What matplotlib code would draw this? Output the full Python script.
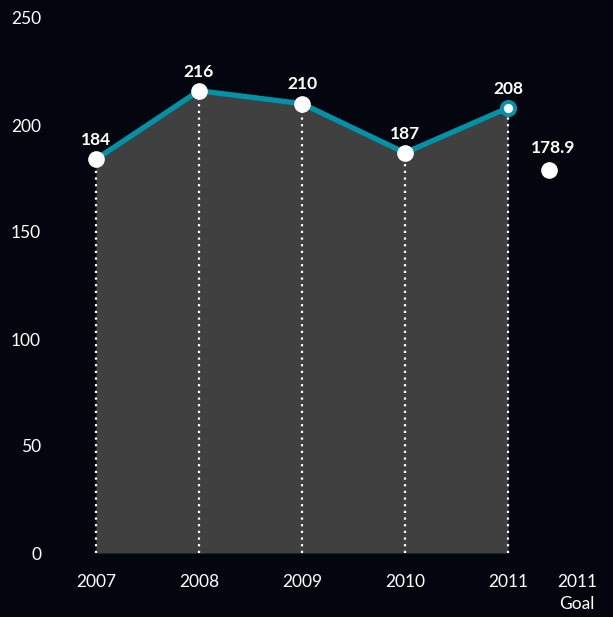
import matplotlib.pyplot as plt

years = ['2007', '2008', '2009', '2010', '2011']
values = [184, 216, 210, 187, 208]
goal_label = '2011\nGoal'
goal_value = 178.9

BG = '#03060f'
TEAL = '#0093a8'
FILL = '#404040'

plt.rcParams['font.family'] = ['Lato', 'DejaVu Sans']

fig = plt.figure(figsize=(6.13, 6.17), dpi=100, facecolor=BG)
ax = fig.add_axes([48 / 613, 64 / 617, 552 / 613, 535 / 617])
ax.set_facecolor(BG)

xs = list(range(len(years)))
goal_x = len(years) - 1 + 0.4
goal_tick = len(years) - 1 + 0.67

# shaded area under the yearly line
ax.fill_between(xs, values, 0, color=FILL, linewidth=0, zorder=1)

# dotted drop lines from each point
for x, v in zip(xs, values):
    ax.plot([x, x], [0, v], color='white', linestyle=(0, (1, 2)), linewidth=1.6, zorder=2)

ax.plot(xs, values, color=TEAL, linewidth=3.8, zorder=3, solid_capstyle='round')
ax.plot(xs[:-1], values[:-1], 'o', color='white', markersize=12, markeredgewidth=0, zorder=4)
ax.plot(xs[-1], values[-1], 'o', color='white', markersize=9.5, markeredgecolor=TEAL,
        markeredgewidth=2.8, zorder=4)
ax.plot(goal_x, goal_value, 'o', color='white', markersize=12, markeredgewidth=0, zorder=4)

for x, v in zip(xs, values):
    ax.annotate(f'{v}', (x, v), xytext=(0, 8), textcoords='offset points',
                ha='center', va='bottom', color='white', fontsize=12.5, fontweight='bold')
ax.annotate(f'{goal_value}', (goal_x, goal_value), xytext=(3, 10), textcoords='offset points',
            ha='center', va='bottom', color='white', fontsize=12.5, fontweight='bold')

ax.set_xlim(-48 / 103, 504 / 103)
ax.set_ylim(0, 250)
ax.set_yticks([0, 50, 100, 150, 200, 250])
ax.set_xticks(xs + [goal_tick])
ax.set_xticklabels(years + [goal_label], linespacing=1.5, va='top')
ax.tick_params(axis='both', length=0, colors='white', labelsize=12.5)
ax.tick_params(axis='y', pad=5)
ax.tick_params(axis='x', pad=15)
for s in ax.spines.values():
    s.set_visible(False)

fig.savefig('out.png', dpi=100, facecolor=BG)
